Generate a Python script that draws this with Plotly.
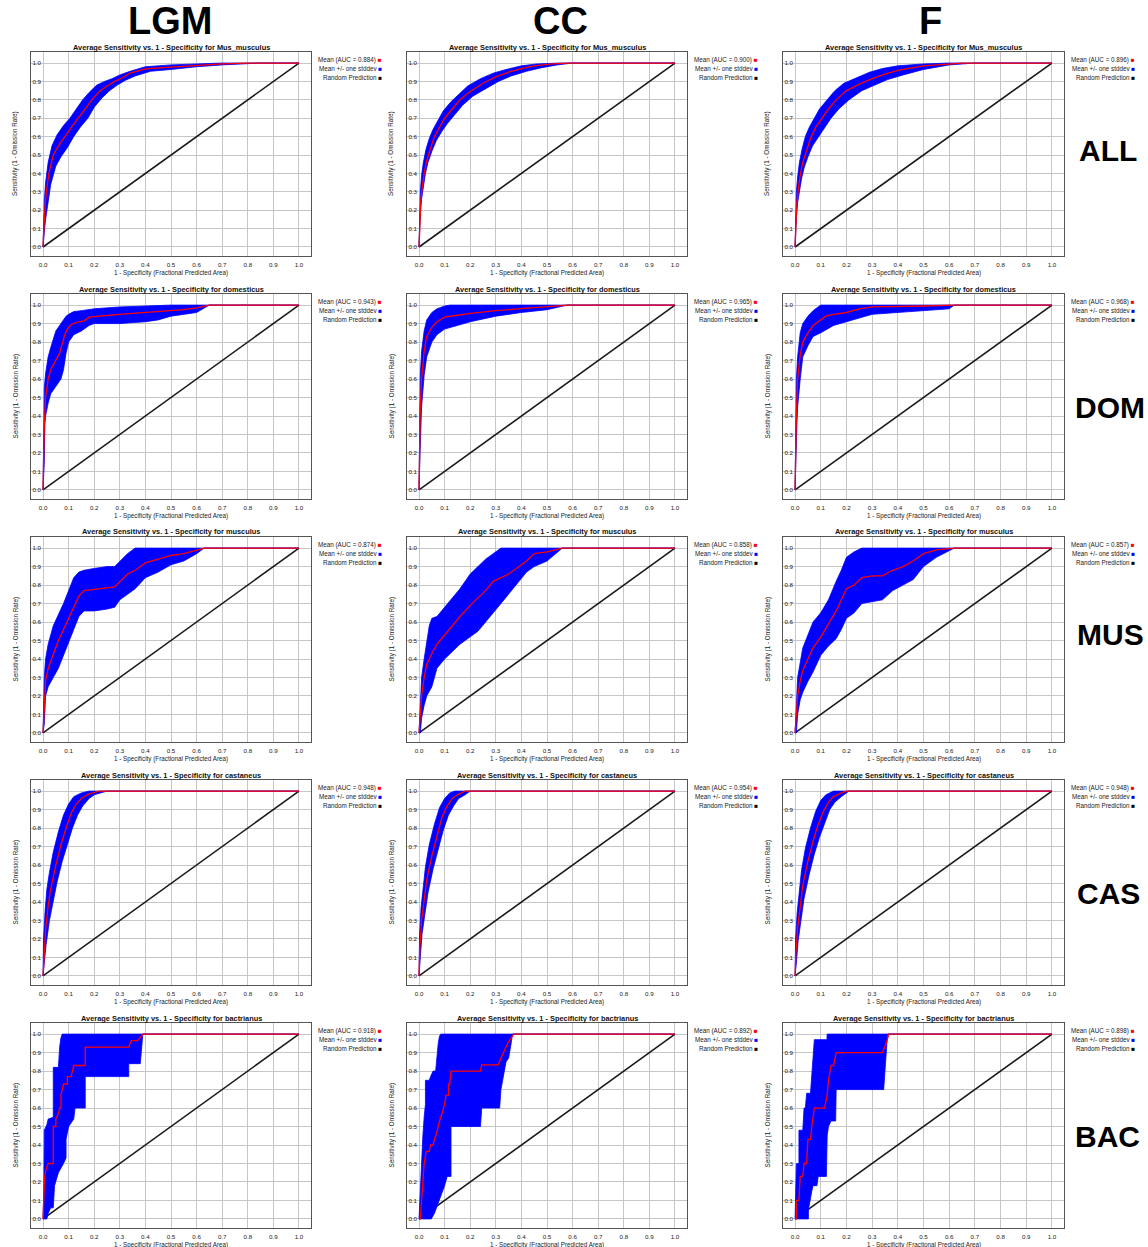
import plotly.graph_objects as go

W, H = 1148, 1247
FONT = "Liberation Sans, Arial, sans-serif"

COLUMNS = ["LGM", "CC", "F"]
ROW_LABELS = ["ALL", "DOM", "MUS", "CAS", "BAC"]
SPECIES = ["Mus_musculus", "domesticus", "musculus", "castaneus", "bactrianus"]
AUC_LGM = [0.884, 0.943, 0.874, 0.948, 0.918]
AUC_CC = [0.900, 0.965, 0.858, 0.954, 0.892]
AUC_F = [0.896, 0.968, 0.857, 0.948, 0.898]
TICKS = [0.0, 0.1, 0.2, 0.3, 0.4, 0.5, 0.6, 0.7, 0.8, 0.9, 1.0]
TICK_LABELS = ["0.0", "0.1", "0.2", "0.3", "0.4", "0.5", "0.6", "0.7", "0.8", "0.9", "1.0"]
RANDOM = [(0, 0), (1, 1)]

# ---------------- ALL (Mus_musculus) ----------------
ALL_LGM_MEAN = [(0, 0), (0.003, 0.12), (0.007, 0.2), (0.013, 0.3), (0.023, 0.4), (0.04, 0.5), (0.06, 0.55),
                (0.085, 0.6), (0.11, 0.65), (0.137, 0.7), (0.165, 0.75), (0.19, 0.8), (0.22, 0.845), (0.25, 0.875),
                (0.28, 0.9), (0.31, 0.92), (0.34, 0.945), (0.4, 0.968), (0.5, 0.978), (0.6, 0.988), (0.7, 0.995),
                (0.8, 1.0), (1, 1)]
ALL_LGM_HI = [(0, 0), (0.002, 0.15), (0.005, 0.25), (0.01, 0.35), (0.02, 0.46), (0.035, 0.55), (0.055, 0.61),
              (0.08, 0.66), (0.105, 0.7), (0.13, 0.75), (0.155, 0.8), (0.18, 0.84), (0.21, 0.88), (0.24, 0.9),
              (0.27, 0.915), (0.3, 0.935), (0.34, 0.955), (0.4, 0.98), (0.5, 0.99), (0.6, 0.995), (0.7, 1.0), (1, 1)]
ALL_LGM_LO = [(0, 0), (0.005, 0.08), (0.01, 0.15), (0.018, 0.24), (0.03, 0.34), (0.05, 0.44), (0.07, 0.49),
              (0.095, 0.54), (0.12, 0.6), (0.145, 0.65), (0.175, 0.7), (0.2, 0.76), (0.23, 0.81), (0.26, 0.85),
              (0.29, 0.88), (0.32, 0.905), (0.36, 0.93), (0.42, 0.955), (0.5, 0.965), (0.6, 0.98), (0.7, 0.99),
              (0.85, 1.0), (1, 1)]

ALL_CC_MEAN = [(0, 0), (0.003, 0.15), (0.007, 0.25), (0.013, 0.33), (0.02, 0.4), (0.03, 0.47), (0.045, 0.54),
               (0.06, 0.6), (0.08, 0.65), (0.1, 0.7), (0.13, 0.75), (0.16, 0.8), (0.2, 0.845), (0.25, 0.89),
               (0.3, 0.925), (0.35, 0.95), (0.4, 0.97), (0.45, 0.985), (0.52, 0.995), (0.58, 1.0), (1, 1)]
ALL_CC_HI = [(0, 0), (0.002, 0.2), (0.005, 0.3), (0.01, 0.39), (0.017, 0.46), (0.027, 0.53), (0.04, 0.59),
             (0.055, 0.64), (0.075, 0.69), (0.095, 0.74), (0.125, 0.79), (0.155, 0.83), (0.19, 0.875),
             (0.24, 0.915), (0.29, 0.945), (0.34, 0.965), (0.4, 0.985), (0.46, 0.995), (0.55, 1.0), (1, 1)]
ALL_CC_LO = [(0, 0), (0.005, 0.18), (0.01, 0.26), (0.017, 0.33), (0.025, 0.4), (0.035, 0.46), (0.05, 0.52),
             (0.068, 0.58), (0.09, 0.63), (0.11, 0.67), (0.14, 0.72), (0.17, 0.77), (0.21, 0.82), (0.26, 0.86),
             (0.31, 0.9), (0.36, 0.93), (0.42, 0.955), (0.48, 0.975), (0.54, 0.99), (0.6, 1.0), (1, 1)]

ALL_F_MEAN = [(0, 0), (0.003, 0.15), (0.007, 0.24), (0.013, 0.32), (0.02, 0.39), (0.03, 0.46), (0.045, 0.53),
              (0.06, 0.59), (0.08, 0.65), (0.1, 0.69), (0.13, 0.75), (0.16, 0.8), (0.2, 0.85), (0.25, 0.885),
              (0.3, 0.915), (0.35, 0.94), (0.4, 0.96), (0.5, 0.985), (0.6, 0.997), (0.65, 1.0), (1, 1)]
ALL_F_HI = [(0, 0), (0.002, 0.2), (0.005, 0.3), (0.01, 0.38), (0.017, 0.46), (0.027, 0.53), (0.04, 0.6),
            (0.055, 0.65), (0.075, 0.7), (0.095, 0.75), (0.125, 0.8), (0.155, 0.85), (0.19, 0.89), (0.24, 0.92),
            (0.29, 0.95), (0.34, 0.97), (0.4, 0.985), (0.5, 0.995), (0.6, 1.0), (1, 1)]
ALL_F_LO = [(0, 0), (0.005, 0.16), (0.01, 0.24), (0.017, 0.31), (0.025, 0.37), (0.035, 0.43), (0.05, 0.49),
            (0.068, 0.55), (0.09, 0.6), (0.11, 0.64), (0.14, 0.7), (0.17, 0.75), (0.21, 0.8), (0.26, 0.85),
            (0.31, 0.88), (0.36, 0.91), (0.42, 0.935), (0.5, 0.965), (0.6, 0.99), (0.7, 1.0), (1, 1)]

# ---------------- DOM (domesticus) ----------------
DOM_LGM_MEAN = [(0, 0), (0.002, 0.2), (0.005, 0.35), (0.01, 0.5), (0.02, 0.6), (0.03, 0.65), (0.05, 0.7),
                (0.065, 0.74), (0.075, 0.79), (0.085, 0.84), (0.095, 0.87), (0.11, 0.895), (0.13, 0.905),
                (0.16, 0.915), (0.18, 0.935), (0.25, 0.945), (0.3, 0.95), (0.35, 0.955), (0.4, 0.96),
                (0.45, 0.962), (0.5, 0.97), (0.55, 0.975), (0.6, 0.985), (0.65, 1.0), (1, 1)]
DOM_LGM_HI = [(0, 0), (0.002, 0.35), (0.005, 0.55), (0.01, 0.63), (0.02, 0.72), (0.03, 0.77), (0.04, 0.82),
              (0.05, 0.86), (0.06, 0.88), (0.07, 0.9), (0.08, 0.92), (0.09, 0.94), (0.1, 0.95), (0.12, 0.965),
              (0.15, 0.97), (0.2, 0.98), (0.3, 0.99), (0.4, 0.995), (0.5, 1.0), (1, 1)]
DOM_LGM_LO = [(0, 0), (0.005, 0.15), (0.007, 0.35), (0.01, 0.4), (0.02, 0.47), (0.03, 0.52), (0.05, 0.56),
              (0.07, 0.6), (0.08, 0.65), (0.09, 0.74), (0.1, 0.8), (0.12, 0.84), (0.15, 0.86), (0.18, 0.89),
              (0.2, 0.9), (0.3, 0.9), (0.4, 0.91), (0.45, 0.92), (0.5, 0.94), (0.55, 0.95), (0.6, 0.96),
              (0.65, 1.0), (1, 1)]

DOM_CC_MEAN = [(0, 0), (0.002, 0.3), (0.005, 0.45), (0.01, 0.6), (0.02, 0.75), (0.03, 0.83), (0.05, 0.88),
               (0.07, 0.91), (0.1, 0.935), (0.15, 0.945), (0.2, 0.955), (0.3, 0.97), (0.4, 0.98), (0.5, 0.99),
               (0.58, 1.0), (1, 1)]
DOM_CC_HI = [(0, 0), (0.002, 0.45), (0.005, 0.62), (0.01, 0.75), (0.02, 0.86), (0.03, 0.92), (0.05, 0.96),
             (0.07, 0.98), (0.1, 0.995), (0.12, 1.0), (1, 1)]
DOM_CC_LO = [(0, 0), (0.004, 0.2), (0.007, 0.35), (0.01, 0.45), (0.02, 0.62), (0.03, 0.72), (0.05, 0.8),
             (0.07, 0.84), (0.1, 0.87), (0.15, 0.89), (0.2, 0.91), (0.3, 0.94), (0.4, 0.96), (0.5, 0.975),
             (0.58, 1.0), (1, 1)]

DOM_F_MEAN = [(0, 0), (0.002, 0.25), (0.005, 0.4), (0.01, 0.6), (0.02, 0.73), (0.03, 0.8), (0.05, 0.85),
              (0.07, 0.89), (0.1, 0.92), (0.12, 0.94), (0.15, 0.95), (0.2, 0.96), (0.25, 0.98), (0.3, 0.99),
              (0.5, 0.995), (0.62, 1.0), (1, 1)]
DOM_F_HI = [(0, 0), (0.002, 0.4), (0.005, 0.6), (0.01, 0.72), (0.02, 0.85), (0.03, 0.9), (0.05, 0.94),
            (0.07, 0.97), (0.1, 1.0), (1, 1)]
DOM_F_LO = [(0, 0), (0.004, 0.22), (0.007, 0.35), (0.01, 0.45), (0.02, 0.6), (0.03, 0.72), (0.05, 0.78),
            (0.07, 0.83), (0.1, 0.85), (0.15, 0.89), (0.2, 0.91), (0.3, 0.95), (0.4, 0.96), (0.5, 0.97),
            (0.6, 0.98), (0.62, 1.0), (1, 1)]

# ---------------- MUS (musculus) ----------------
MUS_LGM_MEAN = [(0, 0), (0.005, 0.17), (0.01, 0.28), (0.02, 0.35), (0.04, 0.43), (0.06, 0.5), (0.08, 0.56),
                (0.1, 0.62), (0.12, 0.68), (0.14, 0.74), (0.16, 0.77), (0.2, 0.775), (0.25, 0.785), (0.28, 0.79),
                (0.3, 0.82), (0.33, 0.86), (0.36, 0.88), (0.4, 0.92), (0.45, 0.94), (0.5, 0.96), (0.55, 0.97),
                (0.6, 0.99), (0.63, 1.0), (1, 1)]
MUS_LGM_HI = [(0, 0), (0.005, 0.3), (0.01, 0.4), (0.02, 0.48), (0.04, 0.58), (0.06, 0.64), (0.08, 0.7),
              (0.1, 0.77), (0.12, 0.84), (0.14, 0.87), (0.16, 0.88), (0.2, 0.89), (0.25, 0.9), (0.28, 0.9),
              (0.3, 0.93), (0.33, 0.97), (0.36, 1.0), (1, 1)]
MUS_LGM_LO = [(0, 0), (0.005, 0.05), (0.01, 0.2), (0.02, 0.25), (0.04, 0.3), (0.06, 0.35), (0.08, 0.42),
              (0.1, 0.5), (0.12, 0.56), (0.14, 0.63), (0.16, 0.66), (0.2, 0.66), (0.25, 0.67), (0.28, 0.68),
              (0.3, 0.72), (0.33, 0.75), (0.36, 0.78), (0.4, 0.84), (0.45, 0.87), (0.5, 0.91), (0.55, 0.93),
              (0.6, 0.97), (0.63, 1.0), (1, 1)]

MUS_CC_MEAN = [(0, 0), (0.005, 0.1), (0.01, 0.2), (0.02, 0.3), (0.03, 0.37), (0.05, 0.43), (0.07, 0.48),
               (0.1, 0.53), (0.13, 0.58), (0.16, 0.63), (0.2, 0.69), (0.23, 0.73), (0.26, 0.77), (0.29, 0.82),
               (0.32, 0.84), (0.35, 0.86), (0.38, 0.89), (0.42, 0.93), (0.45, 0.97), (0.5, 0.98), (0.56, 1.0),
               (1, 1)]
MUS_CC_HI = [(0, 0), (0.005, 0.2), (0.01, 0.3), (0.02, 0.4), (0.03, 0.5), (0.04, 0.58), (0.05, 0.62),
             (0.07, 0.63), (0.1, 0.68), (0.13, 0.73), (0.16, 0.78), (0.2, 0.86), (0.23, 0.9), (0.26, 0.94),
             (0.29, 0.97), (0.32, 1.0), (1, 1)]
MUS_CC_LO = [(0, 0), (0.005, 0.0), (0.01, 0.08), (0.02, 0.15), (0.03, 0.2), (0.05, 0.25), (0.07, 0.35),
             (0.1, 0.4), (0.13, 0.44), (0.16, 0.48), (0.2, 0.52), (0.23, 0.55), (0.26, 0.6), (0.29, 0.65),
             (0.32, 0.7), (0.35, 0.75), (0.38, 0.8), (0.42, 0.87), (0.45, 0.9), (0.5, 0.93), (0.56, 1.0), (1, 1)]

MUS_F_MEAN = [(0, 0), (0.005, 0.1), (0.01, 0.2), (0.02, 0.28), (0.03, 0.34), (0.05, 0.4), (0.07, 0.46),
              (0.1, 0.52), (0.13, 0.59), (0.16, 0.66), (0.18, 0.72), (0.2, 0.78), (0.23, 0.8), (0.26, 0.84),
              (0.3, 0.85), (0.34, 0.85), (0.38, 0.88), (0.42, 0.9), (0.46, 0.93), (0.5, 0.97), (0.55, 0.99),
              (0.62, 1.0), (1, 1)]
MUS_F_HI = [(0, 0), (0.005, 0.2), (0.01, 0.3), (0.02, 0.38), (0.03, 0.46), (0.05, 0.53), (0.07, 0.6),
            (0.1, 0.65), (0.13, 0.72), (0.16, 0.82), (0.18, 0.88), (0.2, 0.95), (0.23, 0.98), (0.26, 1.0), (1, 1)]
MUS_F_LO = [(0, 0), (0.005, 0.0), (0.01, 0.1), (0.02, 0.18), (0.03, 0.22), (0.05, 0.28), (0.07, 0.33),
            (0.1, 0.42), (0.13, 0.47), (0.16, 0.51), (0.18, 0.56), (0.2, 0.62), (0.23, 0.65), (0.26, 0.7),
            (0.3, 0.71), (0.34, 0.72), (0.38, 0.77), (0.42, 0.8), (0.46, 0.83), (0.5, 0.9), (0.55, 0.95),
            (0.62, 1.0), (1, 1)]

# ---------------- CAS (castaneus) ----------------
CAS_LGM_MEAN = [(0, 0), (0.003, 0.1), (0.01, 0.25), (0.02, 0.38), (0.03, 0.47), (0.05, 0.6), (0.07, 0.71),
                (0.09, 0.8), (0.11, 0.88), (0.13, 0.93), (0.15, 0.96), (0.18, 0.985), (0.22, 1.0), (1, 1)]
CAS_LGM_HI = [(0, 0), (0.002, 0.2), (0.008, 0.35), (0.015, 0.47), (0.025, 0.56), (0.04, 0.67), (0.06, 0.78),
              (0.08, 0.87), (0.1, 0.93), (0.12, 0.97), (0.15, 0.99), (0.18, 1.0), (1, 1)]
CAS_LGM_LO = [(0, 0), (0.005, 0.05), (0.012, 0.17), (0.025, 0.3), (0.035, 0.38), (0.055, 0.51), (0.075, 0.62),
              (0.095, 0.71), (0.115, 0.8), (0.135, 0.87), (0.155, 0.92), (0.18, 0.96), (0.2, 0.98), (0.25, 1.0),
              (1, 1)]

CAS_CC_MEAN = [(0, 0), (0.003, 0.15), (0.01, 0.3), (0.02, 0.42), (0.03, 0.52), (0.05, 0.65), (0.07, 0.76),
               (0.09, 0.86), (0.11, 0.92), (0.13, 0.96), (0.15, 0.98), (0.18, 1.0), (1, 1)]
CAS_CC_HI = [(0, 0), (0.002, 0.22), (0.008, 0.37), (0.016, 0.49), (0.025, 0.59), (0.04, 0.71), (0.06, 0.82),
             (0.08, 0.91), (0.1, 0.96), (0.12, 0.99), (0.14, 1.0), (1, 1)]
CAS_CC_LO = [(0, 0), (0.005, 0.1), (0.012, 0.23), (0.024, 0.35), (0.035, 0.45), (0.055, 0.58), (0.075, 0.69),
             (0.095, 0.79), (0.115, 0.87), (0.135, 0.92), (0.155, 0.96), (0.18, 0.98), (0.2, 1.0), (1, 1)]

CAS_F_MEAN = [(0, 0), (0.003, 0.12), (0.01, 0.26), (0.02, 0.39), (0.03, 0.49), (0.05, 0.62), (0.07, 0.73),
              (0.09, 0.82), (0.11, 0.89), (0.13, 0.94), (0.15, 0.97), (0.18, 0.99), (0.2, 1.0), (1, 1)]
CAS_F_HI = [(0, 0), (0.002, 0.2), (0.008, 0.34), (0.016, 0.47), (0.025, 0.57), (0.04, 0.69), (0.06, 0.8),
            (0.08, 0.89), (0.1, 0.95), (0.12, 0.98), (0.15, 1.0), (1, 1)]
CAS_F_LO = [(0, 0), (0.005, 0.07), (0.012, 0.19), (0.024, 0.32), (0.035, 0.42), (0.055, 0.55), (0.075, 0.66),
            (0.095, 0.75), (0.115, 0.83), (0.135, 0.9), (0.155, 0.94), (0.18, 0.97), (0.21, 1.0), (1, 1)]

# ---------------- BAC (bactrianus) ----------------
BAC_LGM_MEAN = [(0, 0), (0.006, 0.22), (0.01, 0.26), (0.02, 0.3), (0.04, 0.3), (0.04, 0.5), (0.05, 0.5),
                (0.05, 0.54), (0.06, 0.57), (0.065, 0.6), (0.07, 0.6), (0.07, 0.67), (0.08, 0.73), (0.095, 0.73),
                (0.095, 0.77), (0.11, 0.77), (0.12, 0.83), (0.165, 0.83), (0.165, 0.93), (0.335, 0.93),
                (0.345, 0.965), (0.37, 0.965), (0.39, 1.0), (1, 1)]
BAC_LGM_HI = [(0, 0), (0.003, 0.15), (0.005, 0.48), (0.015, 0.51), (0.02, 0.54), (0.04, 0.55), (0.04, 0.82),
              (0.06, 0.82), (0.065, 0.93), (0.07, 0.98), (0.075, 1.0), (1, 1)]
BAC_LGM_LO = [(0, 0), (0.015, 0.0), (0.02, 0.03), (0.03, 0.06), (0.04, 0.06), (0.045, 0.18), (0.06, 0.25),
              (0.08, 0.3), (0.09, 0.33), (0.09, 0.43), (0.1, 0.5), (0.12, 0.54), (0.125, 0.6), (0.165, 0.6),
              (0.165, 0.77), (0.335, 0.77), (0.335, 0.84), (0.38, 0.84), (0.39, 1.0), (1, 1)]

BAC_CC_MEAN = [(0, 0), (0.005, 0.0), (0.02, 0.3), (0.028, 0.365), (0.04, 0.365), (0.045, 0.4), (0.055, 0.4),
               (0.06, 0.43), (0.07, 0.47), (0.08, 0.53), (0.09, 0.57), (0.1, 0.62), (0.105, 0.67), (0.115, 0.67),
               (0.115, 0.73), (0.12, 0.73), (0.125, 0.8), (0.24, 0.8), (0.245, 0.833), (0.31, 0.833),
               (0.32, 0.87), (0.33, 0.9), (0.34, 0.93), (0.35, 0.96), (0.36, 0.98), (0.37, 1.0), (1, 1)]
BAC_CC_HI = [(0, 0), (0.005, 0.15), (0.01, 0.35), (0.015, 0.45), (0.02, 0.55), (0.025, 0.62), (0.025, 0.75),
             (0.04, 0.75), (0.045, 0.77), (0.055, 0.8), (0.065, 0.8), (0.07, 0.9), (0.075, 0.95), (0.08, 0.99),
             (0.085, 1.0), (1, 1)]
BAC_CC_LO = [(0, 0), (0.048, 0.0), (0.06, 0.03), (0.07, 0.07), (0.08, 0.1), (0.09, 0.14), (0.1, 0.18),
             (0.11, 0.23), (0.125, 0.23), (0.125, 0.5), (0.24, 0.5), (0.245, 0.6), (0.315, 0.6), (0.32, 0.7),
             (0.33, 0.77), (0.34, 0.85), (0.35, 0.87), (0.36, 0.95), (0.365, 1.0), (1, 1)]

BAC_F_MEAN = [(0, 0), (0.005, 0.0), (0.005, 0.1), (0.015, 0.1), (0.02, 0.23), (0.03, 0.23), (0.035, 0.3),
              (0.045, 0.3), (0.05, 0.43), (0.06, 0.43), (0.065, 0.5), (0.075, 0.6), (0.115, 0.6), (0.12, 0.63),
              (0.125, 0.67), (0.13, 0.75), (0.14, 0.83), (0.15, 0.83), (0.16, 0.9), (0.34, 0.9), (0.355, 0.95),
              (0.365, 1.0), (1, 1)]
BAC_F_HI = [(0, 0), (0.003, 0.15), (0.005, 0.3), (0.015, 0.3), (0.015, 0.48), (0.03, 0.48), (0.035, 0.6),
            (0.04, 0.6), (0.045, 0.68), (0.06, 0.68), (0.075, 0.97), (0.124, 0.97), (0.125, 1.0), (1, 1)]
BAC_F_LO = [(0, 0), (0.052, 0.0), (0.052, 0.05), (0.065, 0.15), (0.07, 0.18), (0.085, 0.18), (0.09, 0.23),
            (0.122, 0.23), (0.125, 0.45), (0.13, 0.5), (0.14, 0.53), (0.158, 0.53), (0.16, 0.7), (0.345, 0.7),
            (0.36, 1.0), (1, 1)]

PANELS = [
    [(ALL_LGM_MEAN, ALL_LGM_HI, ALL_LGM_LO), (ALL_CC_MEAN, ALL_CC_HI, ALL_CC_LO), (ALL_F_MEAN, ALL_F_HI, ALL_F_LO)],
    [(DOM_LGM_MEAN, DOM_LGM_HI, DOM_LGM_LO), (DOM_CC_MEAN, DOM_CC_HI, DOM_CC_LO), (DOM_F_MEAN, DOM_F_HI, DOM_F_LO)],
    [(MUS_LGM_MEAN, MUS_LGM_HI, MUS_LGM_LO), (MUS_CC_MEAN, MUS_CC_HI, MUS_CC_LO), (MUS_F_MEAN, MUS_F_HI, MUS_F_LO)],
    [(CAS_LGM_MEAN, CAS_LGM_HI, CAS_LGM_LO), (CAS_CC_MEAN, CAS_CC_HI, CAS_CC_LO), (CAS_F_MEAN, CAS_F_HI, CAS_F_LO)],
    [(BAC_LGM_MEAN, BAC_LGM_HI, BAC_LGM_LO), (BAC_CC_MEAN, BAC_CC_HI, BAC_CC_LO), (BAC_F_MEAN, BAC_F_HI, BAC_F_LO)],
]
AUCS = [AUC_LGM, AUC_CC, AUC_F]

# ---------------- layout (pixels) ----------------
COL_PX = [(31, 311), (407, 687), (783, 1064)]
ROW_PX = [(52, 256), (294, 499), (537, 742), (780, 985), (1023, 1228)]
HEADER_PX = [(170, 21), (560, 21), (930, 21)]
ROWLABEL_PX = [(1108, 150), (1110, 407), (1110, 635), (1108, 893), (1107, 1136)]
X_RANGE = [-0.047, 1.047]
Y_RANGE = [-0.049, 1.06]

BLUE = "#0000ff"
RED = "#ff0000"
BLACK = "#1a1a1a"


def px_x(p):
    return p / W


def px_y(p):
    return 1 - p / H


fig = go.Figure()
annotations = []
layout_axes = {}
N = 15

for r in range(5):
    for c in range(3):
        k = r * 3 + c + 1
        xa = "x" if k == 1 else f"x{k}"
        ya = "y" if k == 1 else f"y{k}"
        ya_lab = f"y{N + k}"
        mean, hi, lo = PANELS[r][c]

        # random prediction line
        fig.add_trace(go.Scatter(x=[p[0] for p in RANDOM], y=[p[1] for p in RANDOM], mode="lines",
                                 line=dict(color=BLACK, width=1.6), xaxis=xa, yaxis=ya,
                                 showlegend=False, hoverinfo="skip"))
        # +/- stddev band
        poly = hi + lo[::-1]
        fig.add_trace(go.Scatter(x=[p[0] for p in poly], y=[p[1] for p in poly], mode="lines",
                                 fill="toself", fillcolor=BLUE, line=dict(color=BLUE, width=0.8),
                                 xaxis=xa, yaxis=ya, showlegend=False, hoverinfo="skip"))
        # mean
        fig.add_trace(go.Scatter(x=[p[0] for p in mean], y=[p[1] for p in mean], mode="lines",
                                 line=dict(color=RED, width=1.3), xaxis=xa, yaxis=ya,
                                 showlegend=False, hoverinfo="skip"))
        # invisible carrier for the y tick-label axis
        fig.add_trace(go.Scatter(x=[p[0] for p in RANDOM], y=[p[1] for p in RANDOM], mode="lines",
                                 line=dict(width=0), opacity=0, xaxis=xa, yaxis=ya_lab,
                                 showlegend=False, hoverinfo="skip"))

        x0, x1 = COL_PX[c]
        y0, y1 = ROW_PX[r]
        axis_common = dict(tickvals=TICKS, ticktext=TICK_LABELS, showgrid=True, gridcolor="#c6c6c6",
                           gridwidth=1, zeroline=False, showline=True, mirror=True, linecolor="#555555",
                           linewidth=1, ticks="",
                           tickfont=dict(family=FONT, size=6.2, color="#222222"), fixedrange=True)
        layout_axes["xaxis" if k == 1 else f"xaxis{k}"] = dict(
            axis_common, domain=[px_x(x0), px_x(x1)], range=X_RANGE, anchor=ya, ticklabelstandoff=3)
        layout_axes["yaxis" if k == 1 else f"yaxis{k}"] = dict(
            axis_common, domain=[px_y(y1), px_y(y0)], range=Y_RANGE, anchor=xa, showticklabels=False)
        # y tick labels sit inside the frame, just left of x = 0
        layout_axes[f"yaxis{N + k}"] = dict(
            tickvals=TICKS, ticktext=TICK_LABELS, showgrid=False, zeroline=False, showline=False,
            ticks="", tickfont=dict(family=FONT, size=6.2, color="#222222"), fixedrange=True,
            domain=[px_y(y1), px_y(y0)], range=Y_RANGE, anchor="free", overlaying=ya, side="left",
            position=px_x(x0 + 11), ticklabelstandoff=1)

        # title
        annotations.append(dict(
            text=f"<b>Average Sensitivity vs. 1 - Specificity for {SPECIES[r]}</b>",
            x=px_x((x0 + x1) / 2), y=px_y(y0 - 5), xref="paper", yref="paper",
            xanchor="center", yanchor="middle", showarrow=False,
            font=dict(family=FONT, size=7.4, color="#111111")))
        # axis titles
        annotations.append(dict(
            text="1 - Specificity (Fractional Predicted Area)",
            x=px_x((x0 + x1) / 2), y=px_y(y1 + 17), xref="paper", yref="paper",
            xanchor="center", yanchor="middle", showarrow=False,
            font=dict(family=FONT, size=6.3, color="#222222")))
        annotations.append(dict(
            text="Sensitivity (1 - Omission Rate)", textangle=-90,
            x=px_x(x0 - 16), y=px_y((y0 + y1) / 2), xref="paper", yref="paper",
            xanchor="center", yanchor="middle", showarrow=False,
            font=dict(family=FONT, size=6.3, color="#222222")))
        # legend
        auc = AUCS[c][r]
        leg_items = [(f"Mean (AUC = {auc:.3f})", RED),
                     ("Mean +/- one stddev", BLUE),
                     ("Random Prediction", "#000000")]
        for i, (txt, col) in enumerate(leg_items):
            annotations.append(dict(
                text=f"{txt} <span style='color:{col}'>■</span>",
                x=px_x(x1 + 73), y=px_y(y0 + 8 + i * 8.7), xref="paper", yref="paper",
                xanchor="right", yanchor="middle", showarrow=False,
                font=dict(family=FONT, size=6.3, color="#222222")))

for name, (hx, hy) in zip(COLUMNS, HEADER_PX):
    annotations.append(dict(text=f"<b>{name}</b>", x=px_x(hx), y=px_y(hy), xref="paper", yref="paper",
                            xanchor="center", yanchor="middle", showarrow=False,
                            font=dict(family=FONT, size=38, color="#000000")))
for name, (lx, ly) in zip(ROW_LABELS, ROWLABEL_PX):
    annotations.append(dict(text=f"<b>{name}</b>", x=px_x(lx), y=px_y(ly), xref="paper", yref="paper",
                            xanchor="center", yanchor="middle", showarrow=False,
                            font=dict(family=FONT, size=30, color="#000000")))

fig.update_layout(
    width=W, height=H, margin=dict(l=0, r=0, t=0, b=0),
    paper_bgcolor="white", plot_bgcolor="white",
    showlegend=False, annotations=annotations, **layout_axes)

fig.write_html("out.html", config={"displayModeBar": False},
               post_script="document.body.style.margin='0';document.body.style.overflow='hidden';")
